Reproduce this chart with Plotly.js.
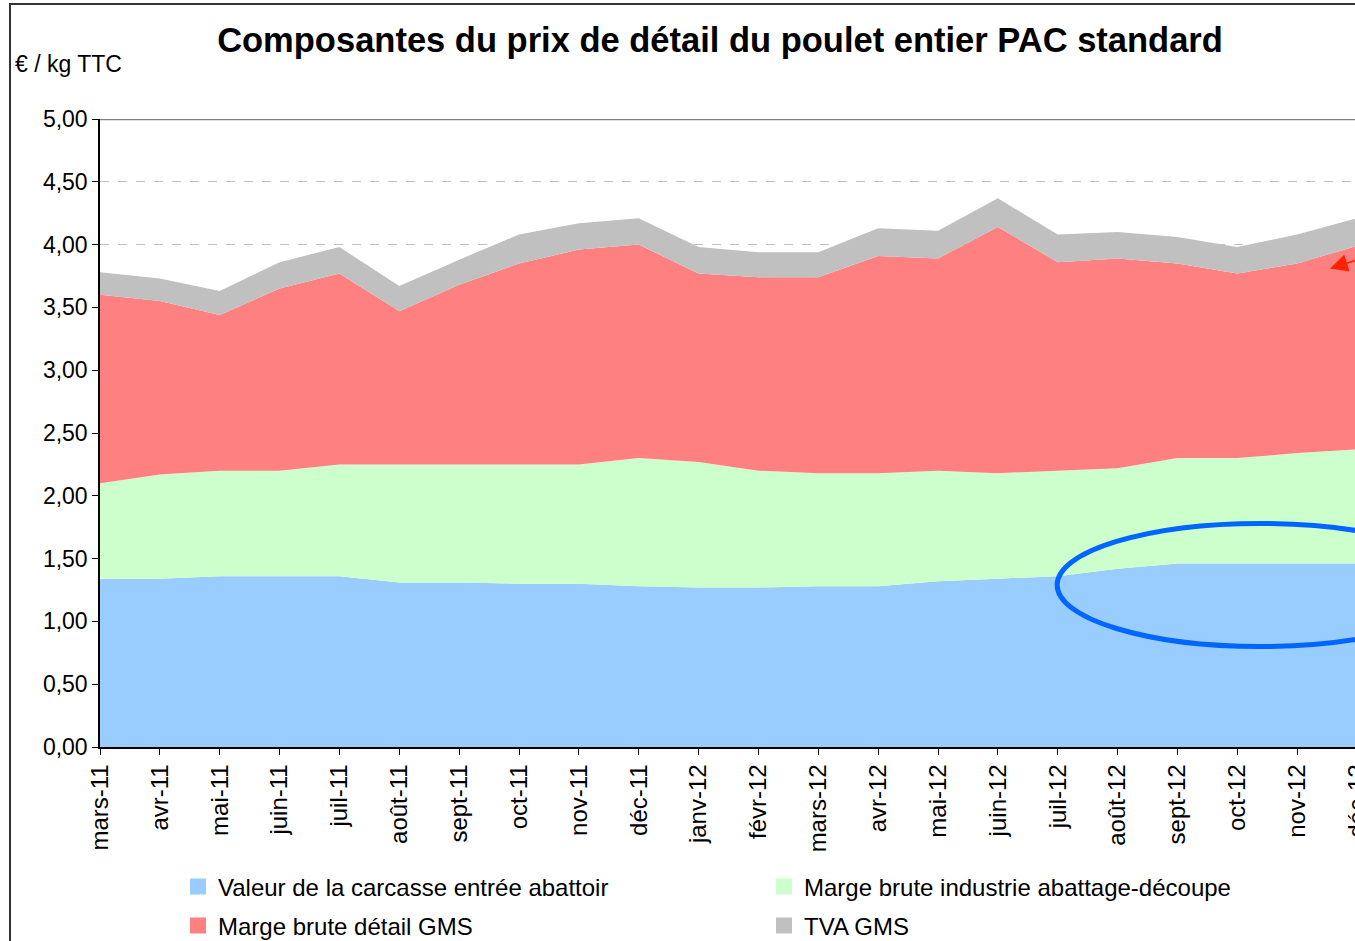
<!DOCTYPE html>
<html>
<head>
<meta charset="utf-8">
<script src="https://cdn.plot.ly/plotly-3.0.1.min.js"></script>
<style>
  html, body { margin: 0; padding: 0; overflow: hidden; background: #ffffff; }
  #chart { width: 1375px; height: 941px; }
</style>
</head>
<body>
<div id="chart"></div>
<script>
// ---- Data (€/kg TTC) ----
const months = ["mars-11","avr-11","mai-11","juin-11","juil-11","août-11","sept-11","oct-11","nov-11","déc-11",
                "janv-12","févr-12","mars-12","avr-12","mai-12","juin-12","juil-12","août-12","sept-12","oct-12","nov-12","déc-12"];

const carcasse   = [1.34,1.34,1.36,1.36,1.36,1.31,1.31,1.30,1.30,1.28,1.27,1.27,1.28,1.28,1.32,1.34,1.36,1.42,1.46,1.46,1.46,1.46];
const industrie  = [0.76,0.83,0.84,0.84,0.89,0.94,0.94,0.95,0.95,1.02,1.00,0.93,0.90,0.90,0.88,0.84,0.84,0.80,0.84,0.84,0.88,0.91];
const detailGMS  = [1.50,1.38,1.24,1.45,1.52,1.22,1.43,1.60,1.71,1.70,1.50,1.54,1.56,1.73,1.69,1.96,1.66,1.67,1.55,1.47,1.51,1.62];
const tvaGMS     = [0.18,0.18,0.19,0.21,0.21,0.20,0.20,0.23,0.21,0.21,0.21,0.20,0.20,0.22,0.22,0.23,0.22,0.21,0.21,0.21,0.23,0.22];

const seriesNames = ["Valeur de la carcasse entrée abattoir","Marge brute industrie abattage-découpe","Marge brute détail GMS","TVA GMS"];
const seriesColors = ["#99CCFF","#CCFFCC","#FF8080","#C0C0C0"];
const seriesValues = [carcasse, industrie, detailGMS, tvaGMS];

const FONT = "Liberation Sans, Arial, Helvetica, sans-serif";

// ---- Geometry helpers (pixels -> paper) ----
const W = 1375, H = 941;
const L = 100, R = 18, T = 119, B = 194;
const pw = W - L - R, ph = H - T - B;
const px2paperX = p => (p - L) / pw;
const px2paperY = p => (H - B - p) / ph;

const traces = [];
seriesValues.forEach((vals, i) => {
  traces.push({
    type: "scatter", mode: "lines", x: months, y: vals,
    stackgroup: "one", name: seriesNames[i],
    fillcolor: seriesColors[i], line: {width: 0, color: seriesColors[i]},
    showlegend: false, hoverinfo: "x+y+name"
  });
});
// legend entries (square swatches)
seriesValues.forEach((vals, i) => {
  traces.push({
    type: "scatter", mode: "markers", x: [null], y: [null], name: seriesNames[i],
    marker: {symbol: "square", size: 16, color: seriesColors[i]},
    legend: i < 2 ? "legend" : "legend2", showlegend: true, hoverinfo: "skip"
  });
});

const legendCommon = {
  orientation: "h", traceorder: "normal",
  entrywidth: 541, entrywidthmode: "pixels",
  font: {family: FONT, size: 24, color: "#000000"},
  bgcolor: "rgba(0,0,0,0)", itemclick: false, itemdoubleclick: false,
  xanchor: "left", yanchor: "middle"
};

const layout = {
  width: W, height: H,
  margin: {l: L, r: R, t: T, b: B, pad: 0, autoexpand: false},
  paper_bgcolor: "#ffffff", plot_bgcolor: "#ffffff",
  separators: ", ",
  font: {family: FONT, size: 24, color: "#000000"},
  title: {
    text: "Composantes du prix de détail du poulet entier PAC standard",
    font: {family: FONT, size: 34.5, color: "#000000", weight: "bold"},
    xref: "container", x: 720 / W, xanchor: "center",
    yref: "container", y: 1 - 40 / H, yanchor: "middle"
  },
  xaxis: {
    type: "category", categoryorder: "array", categoryarray: months,
    range: [0, months.length - 1],
    showgrid: false, zeroline: false, automargin: false,
    showline: true, linecolor: "#000000", linewidth: 1.5,
    ticks: "outside", ticklen: 6, tickcolor: "#000000", tickwidth: 1,
    tickangle: -90, tickfont: {family: FONT, size: 24, color: "#000000"},
    fixedrange: true
  },
  yaxis: {
    range: [0, 5], dtick: 0.5, tick0: 0, tickformat: ".2f",
    showgrid: true, gridcolor: "#C0C0C0", griddash: "dash", gridwidth: 1,
    zeroline: false, automargin: false,
    showline: true, linecolor: "#000000", linewidth: 1.5,
    ticks: "outside", ticklen: 6, tickcolor: "#000000",
    tickfont: {family: FONT, size: 23, color: "#000000"},
    fixedrange: true
  },
  legend: Object.assign({}, legendCommon, {x: px2paperX(178), y: px2paperY(887)}),
  legend2: Object.assign({}, legendCommon, {x: px2paperX(178), y: px2paperY(926)}),
  shapes: [
    // chart outer border
    {type: "rect", xref: "paper", yref: "paper",
     x0: px2paperX(10), x1: px2paperX(1500), y0: px2paperY(1100), y1: px2paperY(4),
     line: {color: "#333333", width: 2}, fillcolor: "rgba(0,0,0,0)", layer: "below"},
    // top border of plot area
    {type: "line", xref: "paper", yref: "y", x0: 0, x1: 1, y0: 5, y1: 5,
     line: {color: "#808080", width: 2.5}},
    // highlight ellipse
    {type: "circle", xref: "x", yref: "y", x0: 15.99, x1: 22.77, y0: 0.80, y1: 1.78,
     line: {color: "#0066FF", width: 5}, fillcolor: "rgba(0,0,0,0)"}
  ],
  annotations: [
    {text: "€ / kg TTC", xref: "paper", yref: "paper",
     x: px2paperX(13), xanchor: "left", y: px2paperY(64), yanchor: "middle",
     showarrow: false, font: {family: FONT, size: 23, color: "#000000"}},
    {text: "", xref: "x", yref: "y", x: 20.55, y: 3.81,
     showarrow: true, ax: 45, ay: -14, arrowhead: 2, arrowsize: 2.2, arrowwidth: 1.6,
     arrowcolor: "#FF2200", standoff: 0}
  ],
  showlegend: true
};

Plotly.newPlot("chart", traces, layout, {displayModeBar: false, responsive: false});
</script>
</body>
</html>
